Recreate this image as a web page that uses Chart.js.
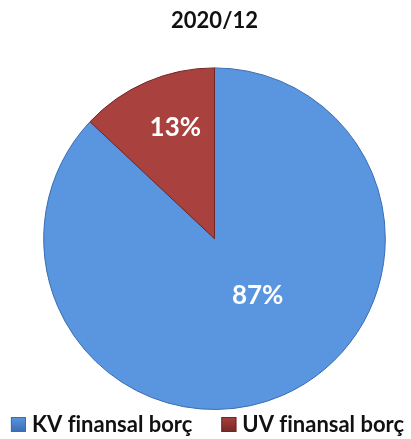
<!DOCTYPE html>
<html lang="tr">
<head>
<meta charset="UTF-8">
<title>2020/12</title>
<script src="https://cdn.jsdelivr.net/npm/chart.js"></script>
<style>
    body { margin: 0; background: #fff; }
    .wrap { width: 411px; height: 439px; }
</style>
</head>
<body>
<div class="wrap"><canvas id="pie"></canvas></div>
<script>
// data
const title = "2020/12";
const categories = ["KV finansal borç", "UV finansal borç"];
const shares = [87, 13];

// look
const inner = ["#5a96df", "#a9413e"];
const rim = ["#3a6db3", "#762826"];
const edge = ["#3a6cb0", "#6e2624"];
const fontFamily = "Lato, 'Open Sans', sans-serif";
// where each % label sits, relative to its slice (radius fraction, angle shift in degrees)
const labelSpot = [{ r: 0.42, shift: -13.6 }, { r: 0.69, shift: 4 }];

function sliceFill(ctx) {
    const chart = ctx.chart;
    const arc = chart.getDatasetMeta(0).data[ctx.dataIndex];
    if (!arc || !arc.outerRadius) return inner[ctx.dataIndex];
    const g = chart.ctx.createRadialGradient(arc.x, arc.y, 0, arc.x, arc.y, arc.outerRadius);
    g.addColorStop(0, inner[ctx.dataIndex]);
    g.addColorStop(0.9, inner[ctx.dataIndex]);
    g.addColorStop(1, rim[ctx.dataIndex]);
    return g;
}

const pctLabels = {
    id: "pctLabels",
    afterDatasetsDraw(chart) {
        const c = chart.ctx;
        const meta = chart.getDatasetMeta(0);
        const total = shares.reduce((a, b) => a + b, 0);
        c.save();
        c.font = "bold 26px " + fontFamily;
        c.fillStyle = "#ffffff";
        c.textAlign = "center";
        c.textBaseline = "middle";
        meta.data.forEach((arc, i) => {
            const spot = labelSpot[i];
            const a = (arc.startAngle + arc.endAngle) / 2 + spot.shift * Math.PI / 180;
            const r = arc.outerRadius * spot.r;
            const txt = Math.round(shares[i] / total * 100) + "%";
            c.fillText(txt, arc.x + Math.cos(a) * r, arc.y + Math.sin(a) * r);
        });
        c.restore();
    }
};

// legend drawn on the canvas so the spacing between the two entries can match
const bottomLegend = {
    id: "bottomLegend",
    afterDraw(chart) {
        const c = chart.ctx;
        const box = 15, gap = 6, between = 29;
        c.save();
        c.font = "bold 22px " + fontFamily;
        const widths = categories.map(t => c.measureText(t).width);
        const total = widths.reduce((s, w) => s + box + gap + w, 0) + between * (categories.length - 1);
        let x = (chart.width - total) / 2 + 2;
        const baseline = 432;
        categories.forEach((name, i) => {
            const top = baseline - box;
            const g = c.createLinearGradient(0, top, 0, top + box);
            g.addColorStop(0, inner[i]);
            g.addColorStop(1, rim[i]);
            c.fillStyle = g;
            c.fillRect(x, top, box, box);
            c.strokeStyle = edge[i];
            c.lineWidth = 1;
            c.strokeRect(x + 0.5, top + 0.5, box - 1, box - 1);
            x += box + gap;
            c.fillStyle = "#111";
            c.textBaseline = "alphabetic";
            c.fillText(name, x, baseline);
            x += widths[i] + between;
        });
        c.restore();
    }
};

new Chart(document.getElementById("pie"), {
    type: "pie",
    data: {
        labels: categories,
        datasets: [{
            data: shares,
            backgroundColor: sliceFill,
            borderColor: edge,
            borderWidth: 1
        }]
    },
    options: {
        responsive: true,
        maintainAspectRatio: false,
        animation: false,
        layout: { padding: { left: 19, right: 1, top: 0, bottom: 29 } },
        plugins: {
            title: {
                display: true,
                text: title,
                color: "#111",
                font: { family: fontFamily, size: 22, weight: "bold" },
                padding: { top: 8, bottom: 33 }
            },
            legend: { display: false },
            tooltip: { enabled: false }
        }
    },
    plugins: [pctLabels, bottomLegend]
});
</script>
</body>
</html>
